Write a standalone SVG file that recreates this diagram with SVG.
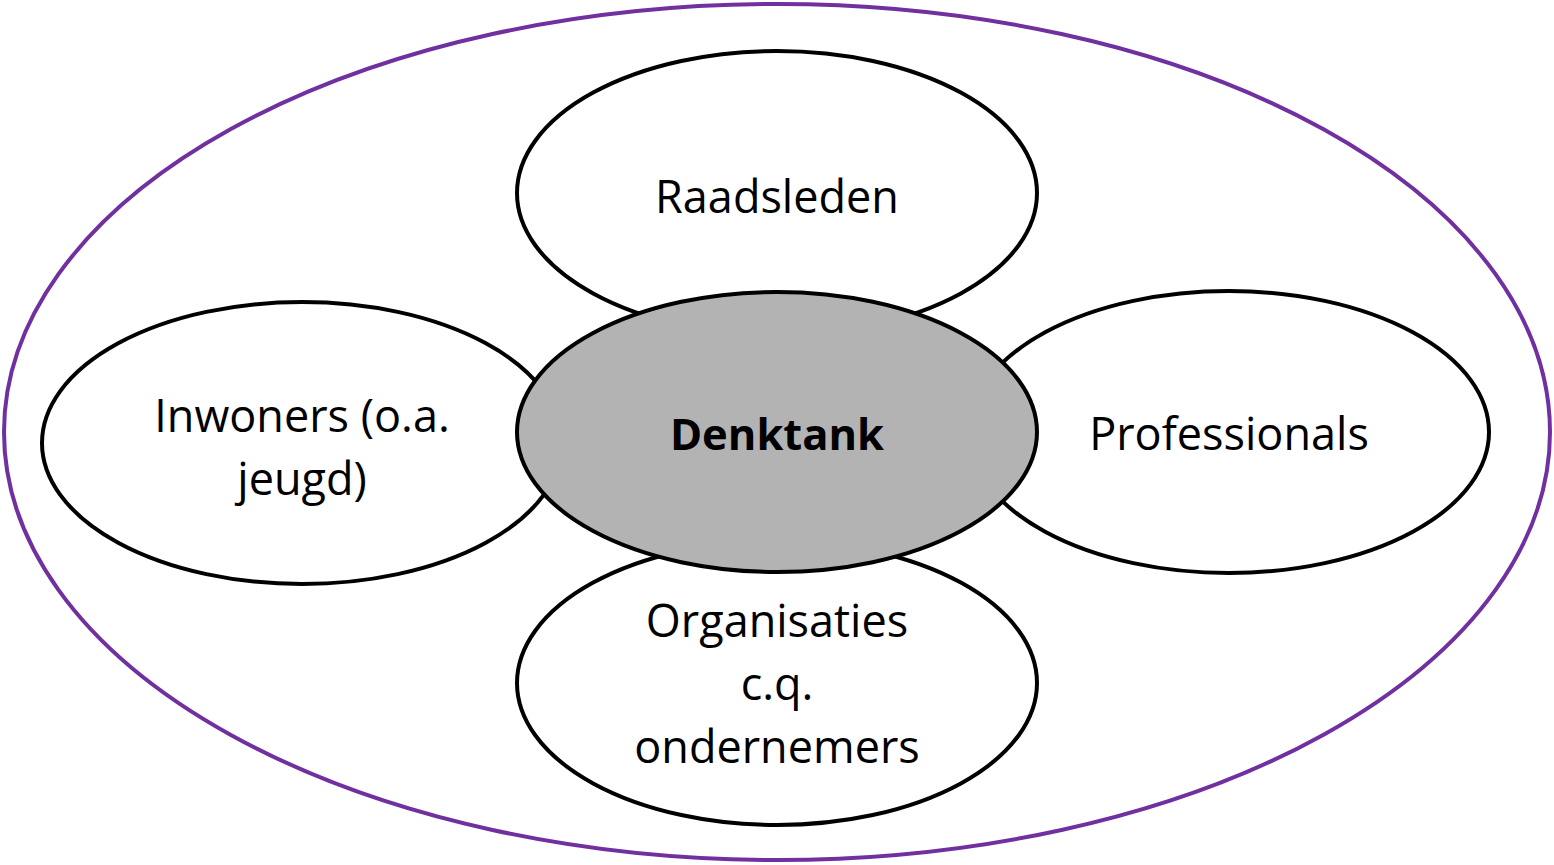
<svg xmlns="http://www.w3.org/2000/svg" width="1554" height="865" viewBox="0 0 1554 865">
  <style>
    .petal { fill: #ffffff; stroke: #000000; stroke-width: 4; }
    .core { fill: #b3b3b3; stroke: #000000; stroke-width: 4; }
    .label { font-family: "Open Sans", "Liberation Sans", sans-serif; font-size: 45px; fill: #000000; text-anchor: middle; }
    .bold { font-weight: bold; font-size: 43.5px; }
  </style>
  <rect width="1554" height="865" fill="#ffffff"/>
  <g id="boundary">
    <ellipse cx="777" cy="432" rx="773" ry="428" fill="none" stroke="#7030a0" stroke-width="4"/>
  </g>
  <g id="connectors"></g>
  <g id="raadsleden">
    <ellipse class="petal" cx="777" cy="193" rx="260" ry="142"/>
    <text class="label" x="777" y="213">Raadsleden</text>
  </g>
  <g id="inwoners">
    <ellipse class="petal" cx="302" cy="443" rx="260" ry="141"/>
    <text class="label" x="302" y="432">Inwoners (o.a.</text>
    <text class="label" x="302" y="495">jeugd)</text>
  </g>
  <g id="professionals">
    <ellipse class="petal" cx="1229" cy="432" rx="260" ry="141"/>
    <text class="label" x="1229" y="450">Professionals</text>
  </g>
  <g id="organisaties">
    <ellipse class="petal" cx="777" cy="683" rx="260" ry="142"/>
    <text class="label" x="777" y="637">Organisaties</text>
    <text class="label" x="777" y="700">c.q.</text>
    <text class="label" x="777" y="763">ondernemers</text>
  </g>
  <g id="denktank">
    <ellipse class="core" cx="777" cy="432" rx="260" ry="140"/>
    <text class="label bold" x="777" y="450">Denktank</text>
  </g>
</svg>
